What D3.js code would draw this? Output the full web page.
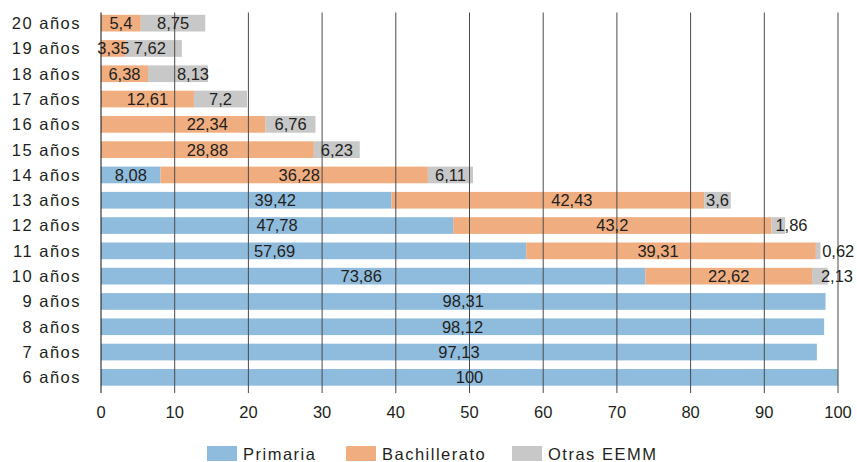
<!DOCTYPE html>
<html>
<head>
<meta charset="utf-8">
<script src="https://cdnjs.cloudflare.com/ajax/libs/d3/7.8.5/d3.min.js"></script>
<style>
  body { margin: 0; background: #fff; }
  text { font-family: "Liberation Sans", Arial, sans-serif; fill: #231f20; }
</style>
</head>
<body>
<div id="chart"></div>
<script>
// ages, top to bottom
const ages = ["20 años", "19 años", "18 años", "17 años", "16 años", "15 años", "14 años",
  "13 años", "12 años", "11 años", "10 años", "9 años", "8 años", "7 años", "6 años"];
const primaria = [0, 0, 0, 0, 0, 0, 8.08, 39.42, 47.78, 57.69, 73.86, 98.31, 98.12, 97.13, 100];
const bachillerato = [5.4, 3.35, 6.38, 12.61, 22.34, 28.88, 36.28, 42.43, 43.2, 39.31, 22.62, 0, 0, 0, 0];
const otras = [8.75, 7.62, 8.13, 7.2, 6.76, 6.23, 6.11, 3.6, 1.86, 0.62, 2.13, 0, 0, 0, 0];
const seriesNames = ["Primaria", "Bachillerato", "Otras EEMM"];
const colors = ["#8fbbdd", "#f0ae80", "#c8c8c8"];
const ticks = [0, 10, 20, 30, 40, 50, 60, 70, 80, 90, 100];

// label nudges (px) where the original placed labels off-centre
const labelShift = {
  "18 años|2": 15, "16 años|1": 24, "14 años|1": 5,
  "13 años|0": 29, "13 años|1": 24, "11 años|0": -39,
  "11 años|1": -13, "10 años|0": -12, "19 años|2": -4,
  "12 años|2": -4, "11 años|2": 3
};

const width = 857, height = 462;
const margin = { top: 10.5, left: 101, right: 19, bottom: 72 };

const svg = d3.select("#chart").append("svg")
  .attr("width", width).attr("height", height);

const x = d3.scaleLinear().domain([0, 100]).range([margin.left, width - margin.right]);
const y = d3.scaleBand().domain(ages).range([margin.top, height - margin.bottom]).paddingInner(0.34).paddingOuter(0.17);

const rows = ages.map((a, i) => ({ age: a, vals: [primaria[i], bachillerato[i], otras[i]] }));
const fmt = v => String(v).replace(".", ",");

// bars
rows.forEach(r => {
  let acc = 0;
  const segs = [];
  r.vals.forEach((v, k) => {
    if (v > 0) segs.push({ k, v, x0: acc, x1: acc + v });
    acc += v;
  });
  svg.append("g").selectAll("rect").data(segs).enter().append("rect")
    .attr("x", d => x(d.x0))
    .attr("y", y(r.age))
    .attr("width", d => x(d.x1) - x(d.x0))
    .attr("height", y.bandwidth())
    .attr("fill", d => colors[d.k]);
  r.segs = segs;
});

// gridlines over bars
svg.append("g").selectAll("line").data(ticks).enter().append("line")
  .attr("x1", d => x(d)).attr("x2", d => x(d))
  .attr("y1", margin.top + 2).attr("y2", height - margin.bottom + 3)
  .attr("stroke", d => d === 0 ? "#111" : "#4a4a4a")
  .attr("stroke-width", 1);

// value labels
rows.forEach(r => {
  const last = r.segs[r.segs.length - 1];
  r.segs.forEach(d => {
    const w = x(d.x1) - x(d.x0);
    const cx = (x(d.x0) + x(d.x1)) / 2;
    const narrow = w < 26 && d === last;
    const shift = labelShift[r.age + "|" + d.k] || 0;
    svg.append("text")
      .attr("x", (narrow ? cx + 1 : cx) + shift)
      .attr("y", y(r.age) + y.bandwidth() / 2)
      .attr("dy", "0.36em")
      .attr("text-anchor", narrow ? "start" : "middle")
      .style("font-size", "16.5px")
      .text(fmt(d.v));
  });
});

// y labels
svg.append("g").selectAll("text").data(ages).enter().append("text")
  .attr("x", 81)
  .attr("y", d => y(d) + y.bandwidth() / 2)
  .attr("dy", "0.36em")
  .attr("text-anchor", "end")
  .style("font-size", "16.5px")
  .style("letter-spacing", "1.5px")
  .text(d => d);

// x tick labels
svg.append("g").selectAll("text").data(ticks).enter().append("text")
  .attr("x", d => x(d))
  .attr("y", 412.5)
  .attr("dy", "0.36em")
  .attr("text-anchor", "middle")
  .style("font-size", "16.5px")
  .text(d => d);

// legend
const legX = [207, 346, 512];
const leg = svg.append("g").selectAll("g").data(seriesNames).enter().append("g")
  .attr("transform", (d, i) => `translate(${legX[i]},446)`);
leg.append("rect").attr("width", 30).attr("height", 15).attr("fill", (d, i) => colors[i]);
leg.append("text").attr("x", 36).attr("y", 13.5)
  .style("font-size", "16.5px")
  .style("letter-spacing", "1.5px")
  .text(d => d);
</script>
</body>
</html>
